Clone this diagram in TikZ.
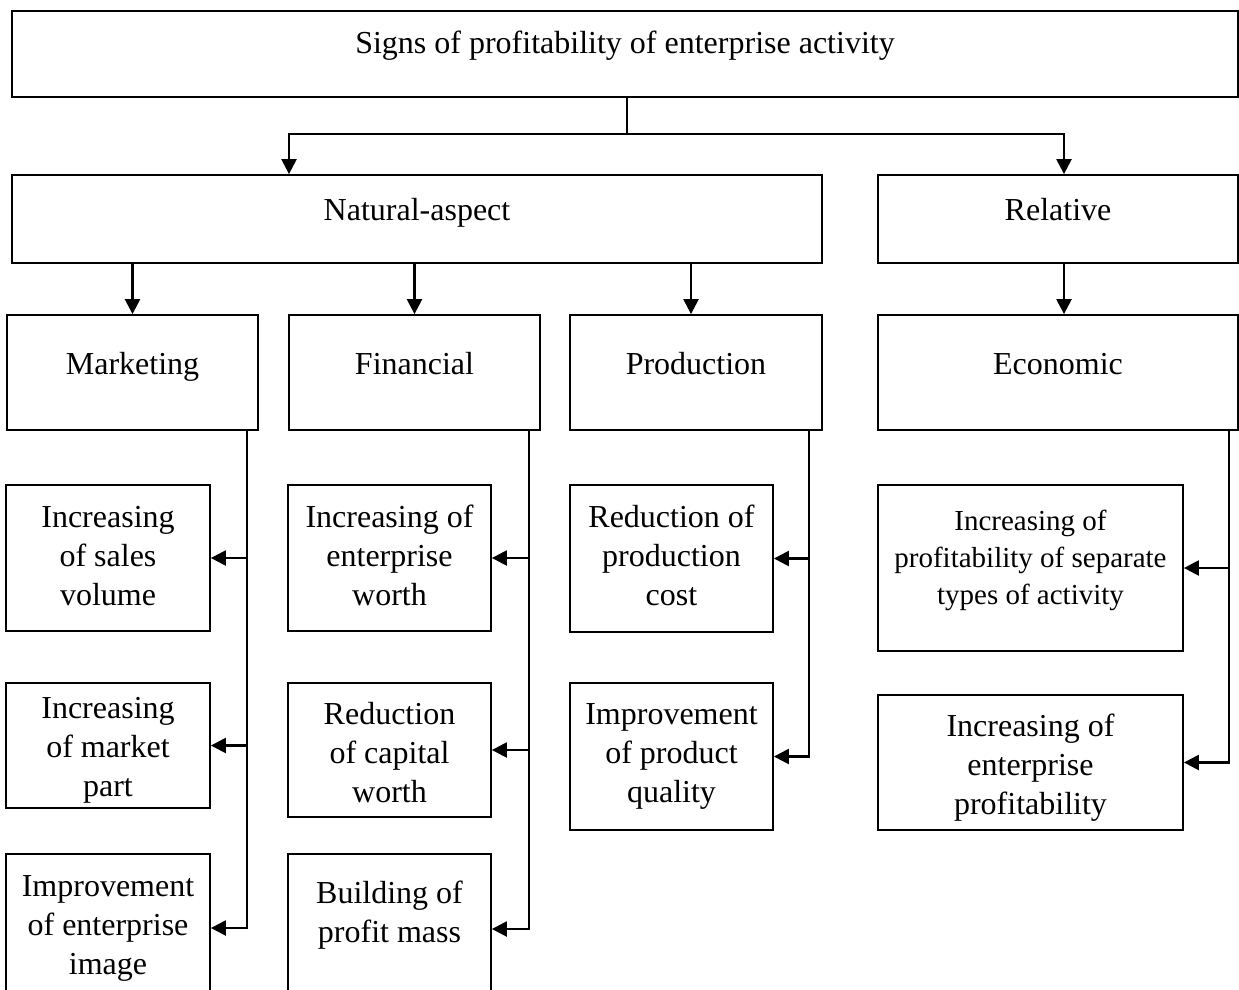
\documentclass[tikz,border=0pt]{standalone}
\usepackage{fontspec}
\setmainfont{Liberation Serif}
\usetikzlibrary{arrows.meta}
\begin{document}
\begin{tikzpicture}[x=1pt,y=-1pt,
  box/.style={draw, line width=1.8pt, rectangle, inner sep=0pt},
  txt/.style={inner sep=0pt, align=center, font=\fontsize{32}{39}\selectfont},
  line/.style={anchor=base, inner sep=0pt, font=\fontsize{32}{39}\selectfont},
  conn/.style={line width=2.4pt},
  arr/.style={line width=2.4pt, -{Triangle[length=15pt,width=15pt]}}
]
\useasboundingbox (0,0) rectangle (1239,990);
\clip (-1,-1) rectangle (1240,991);

% top level
\node[box, minimum width=1226pt, minimum height=86pt] (top) at (625,54) {};
\node[line] (topT) at (625,54) {Signs of profitability of enterprise activity};

% second level
\node[box, minimum width=810pt, minimum height=88pt] (nat) at (417,219) {};
\node[line] (natT) at (417,220) {Natural-aspect};
\node[box, minimum width=360pt, minimum height=88pt] (rel) at (1058,219) {};
\node[line] (relT) at (1058,220) {Relative};

% third level
\node[box, minimum width=251pt, minimum height=115pt] (mk) at (132.5,372.5) {};
\node[line] (mkT) at (132.5,374) {Marketing};
\node[box, minimum width=251pt, minimum height=115pt] (fin) at (414.5,372.5) {};
\node[line] (finT) at (414.5,374) {Financial};
\node[box, minimum width=252pt, minimum height=115pt] (prod) at (696,372.5) {};
\node[line] (prodT) at (696,374) {Production};
\node[box, minimum width=360pt, minimum height=115pt] (eco) at (1058,372.5) {};
\node[line] (ecoT) at (1058,374) {Economic};

% marketing column
\node[box, minimum width=204pt, minimum height=146pt] (sales) at (108,558) {};
\node[txt] (salesT) at (108,556) {Increasing\\of sales\\volume};
\node[box, minimum width=204pt, minimum height=125pt] (market) at (108,745.5) {};
\node[txt] (marketT) at (108,750.5) {Increasing\\of market\\part};
\node[box, minimum width=204pt, minimum height=148pt] (image) at (108,928) {};
\node[txt] (imageT) at (108,928) {Improvement\\of enterprise\\image};

% financial column
\node[box, minimum width=203pt, minimum height=146pt] (worth) at (389.5,558) {};
\node[txt] (worthT) at (389.5,555) {Increasing of\\enterprise\\worth};
\node[box, minimum width=203pt, minimum height=134pt] (capital) at (389.5,750) {};
\node[txt] (capitalT) at (389.5,753) {Reduction\\of capital\\worth};
\node[box, minimum width=203pt, minimum height=150pt] (profit) at (389.5,929) {};
\node[txt] (profitT) at (389.5,915) {Building of\\profit mass};

% production column
\node[box, minimum width=203pt, minimum height=147pt] (cost) at (671.5,558.5) {};
\node[txt] (costT) at (671.5,555.5) {Reduction of\\production\\cost};
\node[box, minimum width=203pt, minimum height=147pt] (quality) at (671.5,756.5) {};
\node[txt] (qualityT) at (671.5,756.5) {Improvement\\of product\\quality};

% economic column
\node[box, minimum width=305pt, minimum height=166pt] (sep) at (1030.5,568) {};
\node[txt, font=\fontsize{29}{37}\selectfont] (sepT) at (1030.5,560) {Increasing of\\profitability of separate\\types of activity};
\node[box, minimum width=305pt, minimum height=135pt] (eprof) at (1030.5,762.5) {};
\node[txt] (eprofT) at (1030.5,767.5) {Increasing of\\enterprise\\profitability};

% helper coordinates
\coordinate (xTop) at (627,134);
\coordinate (xL) at (289,0);
\coordinate (xR) at (1064,0);
\coordinate (xPa) at (691,0);
\coordinate (xM) at (247,0);
\coordinate (xF) at (529,0);
\coordinate (xP) at (809,0);
\coordinate (xE) at (1229,0);

% top connectors
\draw[conn] (top.south -| xTop) -- (xTop);
\draw[arr] (xTop) -| (xL |- nat.north);
\draw[arr] (xTop) -| (xR |- rel.north);

% second to third level
\draw[arr] (mk.north |- nat.south) -- (mk.north);
\draw[arr] (fin.north |- nat.south) -- (fin.north);
\draw[arr] (xPa |- nat.south) -- (xPa |- prod.north);
\draw[arr] (xR |- rel.south) -- (xR |- eco.north);

% marketing
\draw[arr] (xM |- mk.south) |- (image.east);
\draw[arr] (xM |- sales.east) -- (sales.east);
\draw[arr] (xM |- market.east) -- (market.east);

% financial
\draw[arr] (xF |- fin.south) |- (profit.east);
\draw[arr] (xF |- worth.east) -- (worth.east);
\draw[arr] (xF |- capital.east) -- (capital.east);

% production
\draw[arr] (xP |- prod.south) |- (quality.east);
\draw[arr] (xP |- cost.east) -- (cost.east);

% economic
\draw[arr] (xE |- eco.south) |- (eprof.east);
\draw[arr] (xE |- sep.east) -- (sep.east);
\end{tikzpicture}
\end{document}
